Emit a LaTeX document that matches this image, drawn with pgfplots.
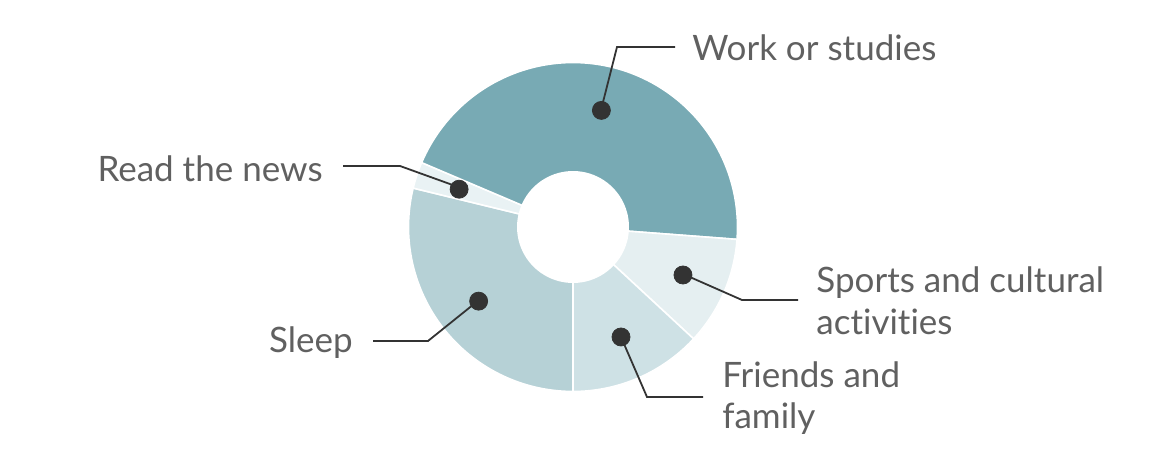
\documentclass[border=0pt]{standalone}
\usepackage{pgfplots}
\pgfplotsset{compat=1.18}
\usepackage{fontspec}
\setmainfont{Lato}[Ligatures=NoCommon]
\definecolor{cWork}{HTML}{78AAB4}
\definecolor{cSleep}{HTML}{B6D1D6}
\definecolor{cFriends}{HTML}{CEE1E5}
\definecolor{cSports}{HTML}{E5EFF1}
\definecolor{cNews}{HTML}{E9F2F4}
\definecolor{cText}{HTML}{606060}
\definecolor{cDark}{HTML}{333333}
% data (percent of time)
\def\vSleep{28.8}
\def\vNews{2.6}
\def\vWork{44.8}
\def\vSports{10.7}
\def\vFriends{13.1}
\def\cx{573}\def\cy{228}\def\R{164.5}\def\rin{56}\def\rd{120}
\pgfmathsetmacro\aA{270}
\pgfmathsetmacro\aB{\aA-3.6*\vSleep}
\pgfmathsetmacro\aC{\aB-3.6*\vNews}
\pgfmathsetmacro\aD{\aC-3.6*\vWork}
\pgfmathsetmacro\aE{\aD-3.6*\vSports}
\pgfmathsetmacro\aF{\aE-3.6*\vFriends}
\newcommand\sector[3]{%
  \addplot[fill=#3, draw=white, line width=0.8pt, domain=#2:#1, samples=90, variable=\t]
    ({\cx+\R*cos(\t)},{\cy+\R*sin(\t)}) -- (axis cs:\cx,\cy) -- cycle;}
\newcommand\slicedot[2]{%
  \pgfmathsetmacro\midang{(#1+#2)/2}%
  \pgfmathsetmacro\dotx{\cx+\rd*cos(\midang)}%
  \pgfmathsetmacro\doty{\cy+\rd*sin(\midang)}%
  \addplot[only marks, mark=*, mark size=4.5pt, color=cDark] coordinates {(\dotx,\doty)};}
\tikzset{lbl/.style={font=\fontsize{17.5}{21}\selectfont, text=cText, inner sep=0pt}}
\begin{document}
\begin{tikzpicture}
\begin{axis}[x=0.5pt, y=0.5pt, xmin=0, xmax=1156, ymin=0, ymax=455,
  hide axis, clip=false]
\addplot[draw=none] coordinates {(0,0) (1156,455)};
\sector{\aA}{\aB}{cSleep}
\sector{\aB}{\aC}{cNews}
\sector{\aC}{\aD}{cWork}
\sector{\aD}{\aE}{cSports}
\sector{\aE}{\aF}{cFriends}
\addplot[fill=white, draw=none, domain=0:360, samples=90, variable=\t]
  ({\cx+\rin*cos(\t)},{\cy+\rin*sin(\t)}) -- cycle;
% leader lines
\addplot[cDark, line width=0.9pt] coordinates {(601,345) (617,408) (675,408)};
\addplot[cDark, line width=0.9pt] coordinates {(461,267) (400,289) (343,289)};
\addplot[cDark, line width=0.9pt] coordinates {(479,155) (428,114) (373,114)};
\addplot[cDark, line width=0.9pt] coordinates {(621,118) (647,58) (703,58)};
\addplot[cDark, line width=0.9pt] coordinates {(683,181) (742,155) (798,155)};
\slicedot{\aA}{\aB}
\slicedot{\aB}{\aC}
\slicedot{\aC}{\aD}
\slicedot{\aD}{\aE}
\slicedot{\aE}{\aF}
% labels
\node[lbl, anchor=base west] at (axis cs:692,394) {Work or studies};
\node[lbl, anchor=base east] at (axis cs:323,273) {Read the news};
\node[lbl, anchor=base east] at (axis cs:353,102) {Sleep};
\node[lbl, anchor=base west] at (axis cs:722,67) {Friends and};
\node[lbl, anchor=base west] at (axis cs:722,26) {family};
\node[lbl, anchor=base west] at (axis cs:816,162) {Sports and cultural};
\node[lbl, anchor=base west] at (axis cs:816,120) {activities};
\end{axis}
\end{tikzpicture}
\end{document}
